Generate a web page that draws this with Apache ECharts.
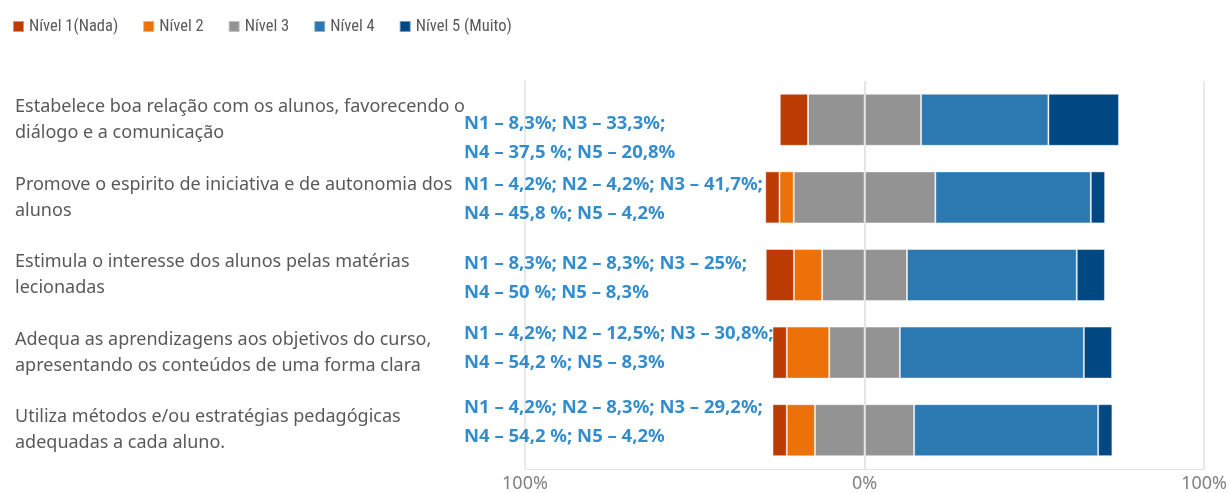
<!DOCTYPE html>
<html>
<head>
<meta charset="utf-8">
<script src="https://cdn.jsdelivr.net/npm/echarts@6/dist/echarts.min.js"></script>
<style>
html,body{margin:0;padding:0;background:#fff;}
#chart{width:1230px;height:493px;}
</style>
</head>
<body>
<div id="chart"></div>
<script>
const categories = [
  'Estabelece boa relação com os alunos, favorecendo o\ndiálogo e a comunicação',
  'Promove o espirito de iniciativa e de autonomia dos\nalunos',
  'Estimula o interesse dos alunos pelas matérias\nlecionadas',
  'Adequa as aprendizagens aos objetivos do curso,\napresentando os conteúdos de uma forma clara',
  'Utiliza métodos e/ou estratégias pedagógicas\nadequadas a cada aluno.'
];
const seriesNames = ['Nível 1(Nada)', 'Nível 2', 'Nível 3', 'Nível 4', 'Nível 5 (Muito)'];
const nivel1 = [8.3, 4.2, 8.3, 4.2, 4.2];
const nivel2 = [0, 4.2, 8.3, 12.5, 8.3];
const nivel3 = [33.3, 41.7, 25, 20.8, 29.2];
const nivel4 = [37.5, 45.8, 50, 54.2, 54.2];
const nivel5 = [20.8, 4.2, 8.3, 8.3, 4.2];
const annotations = [
  ['N1 – 8,3%; N3 – 33,3%;', 'N4 – 37,5 %; N5 – 20,8%'],
  ['N1 – 4,2%; N2 – 4,2%; N3 – 41,7%;', 'N4 – 45,8 %; N5 – 4,2%'],
  ['N1 – 8,3%; N2 – 8,3%; N3 – 25%;', 'N4 – 50 %; N5 – 8,3%'],
  ['N1 – 4,2%; N2 – 12,5%; N3 – 30,8%;', 'N4 – 54,2 %; N5 – 8,3%'],
  ['N1 – 4,2%; N2 – 8,3%; N3 – 29,2%;', 'N4 – 54,2 %; N5 – 4,2%']
];
const xTicks = [-100, 0, 100];

const colors = ['#BC3B03', '#EC7108', '#939393', '#2C78B0', '#014782'];
const font = '"Noto Sans", "Open Sans", sans-serif';
const narrowFont = '"Liberation Sans Narrow", "Roboto Condensed", Lato, sans-serif';
const annotationDy = [18, 2, 3, -4, -8];

const chart = echarts.init(document.getElementById('chart'), null, {renderer: 'canvas'});

function barSeries(name, data, color, sign) {
  return {
    name: name,
    type: 'bar',
    stack: 'total',
    barWidth: 52,
    data: data.map(v => sign * v),
    itemStyle: {color: color, borderColor: 'rgba(255,255,255,0.45)', borderWidth: 1},
    emphasis: {disabled: true},
    z: 2
  };
}

const option = {
  animation: false,
  textStyle: {fontFamily: font},
  legend: {
    data: seriesNames,
    left: 12,
    top: 18,
    padding: 0,
    itemWidth: 11,
    itemHeight: 11,
    itemGap: 24,
    icon: 'rect',
    textStyle: {color: '#595959', fontSize: 16.5, fontFamily: narrowFont},
    selectedMode: false
  },
  grid: {left: 525, right: 21, top: 81, bottom: 23, containLabel: false},
  xAxis: {
    type: 'value',
    min: xTicks[0],
    max: xTicks[xTicks.length - 1],
    interval: 100,
    axisLine: {show: true, lineStyle: {color: '#e0e0e0'}},
    axisTick: {show: false},
    splitLine: {show: true, lineStyle: {color: '#e3e3e3', width: 1.5}},
    axisLabel: {
      color: '#808080', fontSize: 18, fontFamily: font, margin: 6,
      formatter: v => Math.abs(v) + '%'
    }
  },
  yAxis: {
    type: 'category',
    inverse: true,
    data: categories,
    axisLine: {show: false},
    axisTick: {show: false},
    axisLabel: {
      align: 'left',
      margin: 510,
      color: '#595959',
      fontSize: 18,
      lineHeight: 26,
      fontFamily: font
    }
  },
  series: [
    barSeries(seriesNames[2], nivel3.map(v => v / 2), colors[2], -1),
    barSeries(seriesNames[1], nivel2, colors[1], -1),
    barSeries(seriesNames[0], nivel1, colors[0], -1),
    barSeries(seriesNames[2], nivel3.map(v => v / 2), colors[2], 1),
    barSeries(seriesNames[3], nivel4, colors[3], 1),
    barSeries(seriesNames[4], nivel5, colors[4], 1),
    {
      type: 'scatter',
      symbolSize: 0,
      silent: true,
      z: 5,
      markLine: {
        silent: true,
        symbol: 'none',
        label: {show: false},
        lineStyle: {color: '#e3e3e3', width: 1.5, type: 'solid'},
        data: [{xAxis: 0}]
      },
      data: annotations.map((a, i) => ({
        value: [xTicks[0], i],
        label: {
          show: true,
          position: 'inside',
          align: 'left',
          offset: [-61, annotationDy[i]],
          formatter: a.join('\n')
        }
      })),
      label: {
        show: true,
        color: '#0070C0',
        fontWeight: 'bold',
        fontSize: 18.5,
        lineHeight: 29,
        fontFamily: font
      }
    }
  ]
};
chart.setOption(option);
</script>
</body>
</html>
